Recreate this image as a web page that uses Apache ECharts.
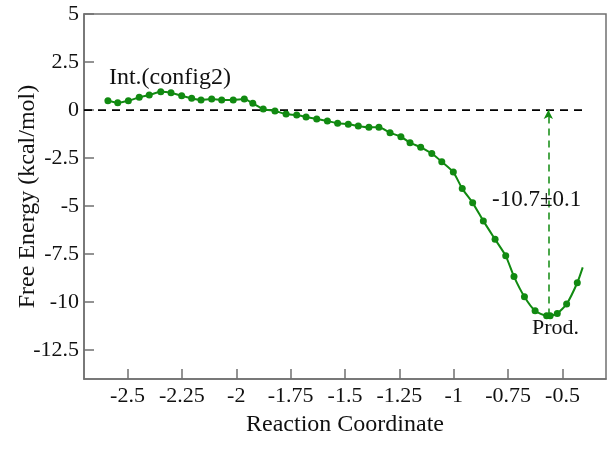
<!DOCTYPE html>
<html>
<head>
<meta charset="utf-8">
<script src="https://cdn.jsdelivr.net/npm/echarts@6/dist/echarts.min.js"></script>
<style>
  html, body { margin: 0; padding: 0; background: #fff; }
  #main { width: 614px; height: 464px; }
</style>
</head>
<body>
<div id="main"></div>
<script>
// reaction coordinate / free energy
const coordX = [-2.59, -2.545, -2.496, -2.446, -2.4, -2.347, -2.3, -2.251, -2.205, -2.162,
  -2.113, -2.067, -2.014, -1.963, -1.924, -1.876, -1.822, -1.771, -1.722, -1.679,
  -1.63, -1.581, -1.534, -1.485, -1.439, -1.39, -1.344, -1.293, -1.243, -1.201,
  -1.152, -1.101, -1.055, -1.002, -0.961, -0.913, -0.864, -0.81, -0.761, -0.723,
  -0.675, -0.626, -0.573, -0.557, -0.524, -0.481, -0.432, -0.407]
const energy = [0.48, 0.38, 0.48, 0.66, 0.78, 0.95, 0.90, 0.74, 0.61, 0.52,
  0.57, 0.52, 0.52, 0.57, 0.35, 0.05, -0.05, -0.21, -0.26, -0.36,
  -0.47, -0.57, -0.69, -0.74, -0.83, -0.90, -0.90, -1.18, -1.39, -1.70,
  -1.94, -2.26, -2.69, -3.23, -4.09, -4.83, -5.77, -6.73, -7.59, -8.67,
  -9.72, -10.45, -10.71, -10.71, -10.59, -10.10, -8.99, -8.19]

const xTicks = [-2.5, -2.25, -2, -1.75, -1.5, -1.25, -1, -0.75, -0.5]
const yTicks = [-12.5, -10, -7.5, -5, -2.5, 0, 2.5, 5]

const zeroLine = [[-2.7, 0], [-0.4, 0]]
const dropX = -0.565
const dropBottom = -10.7
const dropLabel = '-10.7±0.1'

const font = 'Liberation Serif'
const green = '#118a11'

const chart = echarts.init(document.getElementById('main'))

const curve = coordX.map((x, i) => {
  const item = {value: [x, energy[i]]}
  if (i === coordX.length - 1) item.symbol = 'none'
  return item
})

chart.setOption({
  animation: false,
  grid: {
    left: 84, top: 14, right: 8, bottom: 85,
    outerBoundsMode: 'none', containLabel: false,
    show: true, borderColor: '#707070', borderWidth: 1.5
  },
  xAxis: {
    type: 'value',
    min: -2.7,
    max: -0.3,
    name: 'Reaction Coordinate',
    nameLocation: 'middle',
    nameGap: 34,
    nameMoveOverlap: false,
    nameTextStyle: {fontFamily: font, fontSize: 24, color: '#111'},
    axisLine: {onZero: false, lineStyle: {color: '#707070', width: 1.5}},
    axisTick: {inside: true, length: 10, customValues: xTicks, lineStyle: {color: '#707070', width: 1.5}},
    axisLabel: {customValues: xTicks, fontFamily: font, fontSize: 22, color: '#111', margin: 6},
    splitLine: {show: false}
  },
  yAxis: {
    type: 'value',
    min: -14,
    max: 5,
    name: 'Free Energy (kcal/mol)',
    nameLocation: 'middle',
    nameGap: 44,
    nameMoveOverlap: false,
    nameTextStyle: {fontFamily: font, fontSize: 24, color: '#111'},
    axisLine: {show: true, onZero: false, lineStyle: {color: '#707070', width: 1.5}},
    axisTick: {show: true, inside: true, length: 10, customValues: yTicks, lineStyle: {color: '#707070', width: 1.5}},
    axisLabel: {customValues: yTicks, fontFamily: font, fontSize: 22, color: '#111', margin: 5},
    splitLine: {show: false}
  },
  series: [
    {
      type: 'line',
      data: zeroLine,
      symbol: 'none',
      silent: true,
      lineStyle: {color: '#000', width: 1.8, type: [8, 6]}
    },
    {
      type: 'line',
      data: curve,
      smooth: 0.2,
      symbol: 'circle',
      symbolSize: 7,
      itemStyle: {color: green},
      lineStyle: {color: green, width: 2},
      markLine: {
        silent: true,
        symbol: ['none', 'arrow'],
        symbolSize: [7, 9],
        label: {show: false},
        lineStyle: {color: green, width: 1.5, type: [7, 5]},
        data: [[{coord: [dropX, dropBottom]}, {coord: [dropX, 0]}]]
      },
      markPoint: {
        silent: true,
        symbol: 'circle',
        symbolSize: 0,
        label: {show: true, fontFamily: font, fontSize: 23, color: '#111', position: 'inside'},
        data: [
          {coord: [-2.305, 1.67], value: 'Int.(config2)', label: {formatter: 'Int.(config2)', fontSize: 24}},
          {coord: [-0.532, -11.35], value: 'Prod.', label: {formatter: 'Prod.', fontSize: 22}},
          {coord: [-0.619, -4.69], value: dropLabel, label: {formatter: dropLabel}}
        ]
      }
    }
  ]
})
</script>
</body>
</html>
